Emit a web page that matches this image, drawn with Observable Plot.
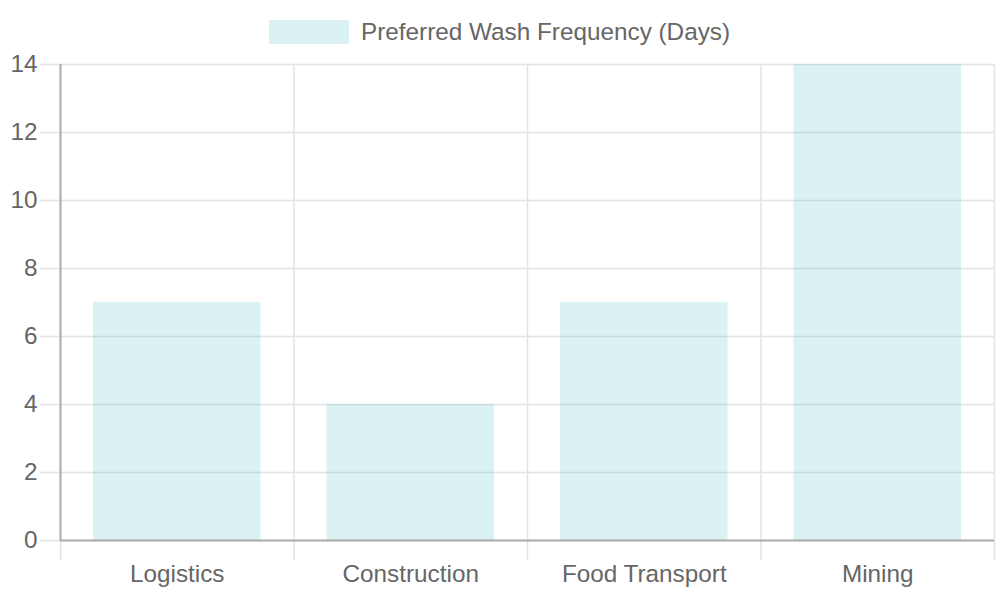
<!DOCTYPE html>
<html><head><meta charset="utf-8">
<script src="https://cdn.jsdelivr.net/npm/d3@7"></script>
<script src="https://cdn.jsdelivr.net/npm/@observablehq/plot@0.6"></script>
<style>
body{margin:0;background:#fff;font-family:"Liberation Sans",Arial,Helvetica,sans-serif;}
#legend{height:50px;position:relative;width:1000px;}
#legend .swatch{position:absolute;left:269px;top:20px;width:80px;height:24px;background:rgba(75,192,192,0.2);}
#legend .lbl{position:absolute;left:361px;top:19px;font-size:24.3px;line-height:26px;color:#666;white-space:nowrap;}
#chart svg{display:block;}
</style></head><body>
<div id="legend"><span class="swatch"></span><span class="lbl"></span></div>
<div id="chart"></div>
<script>
const categories = ["Logistics", "Construction", "Food Transport", "Mining"];
const values = [7, 4, 7, 14];
const yTicks = [0, 2, 4, 6, 8, 10, 12, 14];
const seriesName = "Preferred Wash Frequency (Days)";

document.querySelector("#legend .lbl").textContent = seriesName;

const data = categories.map((c, i) => ({category: c, index: i, value: values[i]}));
const boundaries = d3.range(categories.length + 1);
const centers = categories.map((c, i) => i + 0.5);

const gridColor = "#e3e3e3";
const axisColor = "#ababab";

const chart = Plot.plot({
  width: 1000,
  height: 550,
  marginTop: 14,
  marginBottom: 60,
  marginLeft: 60,
  marginRight: 6,
  style: {fontFamily: '"Liberation Sans", Arial, Helvetica, sans-serif', fontSize: "24.3px", color: "#666", background: "#fff"},
  x: {type: "linear", domain: [0, categories.length]},
  y: {domain: [0, 14]},
  marks: [
    Plot.ruleY(yTicks, {stroke: gridColor, strokeWidth: 1.5}),
    Plot.ruleX(boundaries, {stroke: gridColor, strokeWidth: 1.5}),
    Plot.axisY({ticks: yTicks, tickSize: 20, tickPadding: 3, stroke: gridColor, strokeOpacity: 1, strokeWidth: 1.5, fill: "#666", label: null}),
    Plot.axisX({ticks: boundaries, tickSize: 20, tickFormat: () => "", stroke: gridColor, strokeOpacity: 1, strokeWidth: 1.5, label: null}),
    Plot.rectY(data, {x1: "index", x2: d => d.index + 1, y: "value", insetLeft: 33, insetRight: 33, fill: "rgb(75,192,192)", fillOpacity: 0.2}),
    Plot.axisX({ticks: centers, tickSize: 0, tickPadding: 24, tickFormat: v => categories[Math.floor(v)], fill: "#666", label: null}),
    Plot.ruleX([0], {stroke: axisColor, strokeWidth: 2}),
    Plot.ruleY([0], {stroke: axisColor, strokeWidth: 2})
  ]
});
document.getElementById("chart").appendChild(chart);
</script>
</body></html>
